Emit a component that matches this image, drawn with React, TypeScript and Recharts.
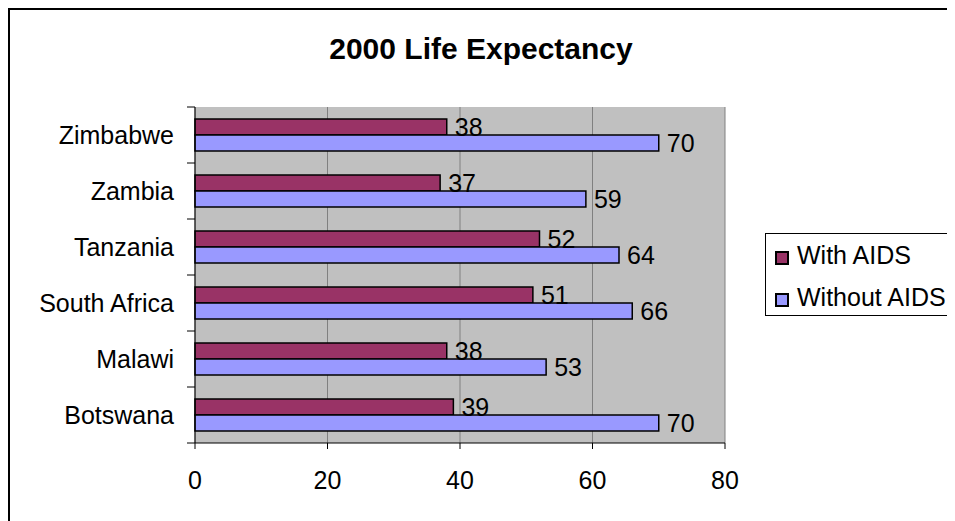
import React from 'react';
import { BarChart, Bar, XAxis, YAxis, CartesianGrid, LabelList } from 'recharts';

const countries = ['Zimbabwe', 'Zambia', 'Tanzania', 'South Africa', 'Malawi', 'Botswana'];
const withAids = [38, 37, 52, 51, 38, 39];
const withoutAids = [70, 59, 64, 66, 53, 70];
const xTicks = [0, 20, 40, 60, 80];
const seriesNames = ['With AIDS', 'Without AIDS'];
const seriesColors = ['#993366', '#9999FF'];
const title = '2000 Life Expectancy';

const data = countries.map((c, i) => ({ country: c, withAids: withAids[i], withoutAids: withoutAids[i] }));

const FONT = '"Liberation Sans", Arial, sans-serif';
const BAND = 56;

const CatTick = (props: any) => {
  const { x, y, payload, index } = props;
  return (
    <g>
      <text x={x} y={y} textAnchor="end" dominantBaseline="central" fontSize={25} fill="#000" fontFamily={FONT}>
        {payload.value}
      </text>
      <line x1={x + 13} x2={x + 21} y1={y + BAND / 2} y2={y + BAND / 2} stroke="#000" strokeWidth={1} />
      {index === 0 ? (
        <line x1={x + 13} x2={x + 21} y1={y - BAND / 2} y2={y - BAND / 2} stroke="#000" strokeWidth={1} />
      ) : null}
    </g>
  );
};

export default function App() {
  return (
    <div
      style={{
        position: 'relative',
        width: 947,
        height: 513,
        borderTop: '2px solid #000',
        borderLeft: '2px solid #000',
        boxSizing: 'border-box',
        overflow: 'hidden',
        background: '#fff',
        fontFamily: FONT,
      }}
    >
      <div
        style={{
          position: 'absolute',
          left: 0,
          top: 24,
          width: 942,
          textAlign: 'center',
          fontSize: 30,
          lineHeight: '30px',
          fontWeight: 'bold',
          color: '#000',
        }}
      >
        {title}
      </div>
      <BarChart
        width={945}
        height={511}
        data={data}
        layout="vertical"
        margin={{ top: 97, right: 230, bottom: 48, left: 10 }}
        barSize={16}
        barGap={0}
      >
        <CartesianGrid horizontal={false} vertical={true} stroke="#808080" fill="#C0C0C0" verticalPoints={undefined} />
        <XAxis
          type="number"
          domain={[0, 80]}
          ticks={xTicks}
          height={30}
          tickSize={6}
          tickMargin={22}
          axisLine={{ stroke: '#000' }}
          tickLine={{ stroke: '#000' }}
          tick={{ fontSize: 25, fill: '#000', fontFamily: FONT }}
          interval={0}
        />
        <YAxis
          type="category"
          dataKey="country"
          width={175}
          tickSize={8}
          tickMargin={13}
          tickLine={false}
          axisLine={{ stroke: '#000' }}
          tick={<CatTick />}
          interval={0}
        />
        <Bar dataKey="withAids" name={seriesNames[0]} fill={seriesColors[0]} stroke="#000" strokeWidth={1.5} isAnimationActive={false}>
          <LabelList dataKey="withAids" position="right" offset={8} fontSize={25} fill="#000" fontFamily={FONT} />
        </Bar>
        <Bar dataKey="withoutAids" name={seriesNames[1]} fill={seriesColors[1]} stroke="#000" strokeWidth={1.5} isAnimationActive={false}>
          <LabelList dataKey="withoutAids" position="right" offset={8} fontSize={25} fill="#000" fontFamily={FONT} />
        </Bar>
      </BarChart>
      <div
        style={{
          position: 'absolute',
          left: 755,
          top: 223,
          width: 300,
          height: 83,
          border: '1px solid #000',
          boxSizing: 'border-box',
        }}
      >
        <svg width={298} height={81} style={{ display: 'block' }}>
          {seriesNames.map((n, i) => (
            <g key={n}>
              <rect x={10} y={18 + i * 42} width={12} height={12} fill={seriesColors[i]} stroke="#000" strokeWidth={2} />
              <text x={31} y={30 + i * 42} fontSize={25} fill="#000" fontFamily={FONT}>
                {n}
              </text>
            </g>
          ))}
        </svg>
      </div>
    </div>
  );
}
